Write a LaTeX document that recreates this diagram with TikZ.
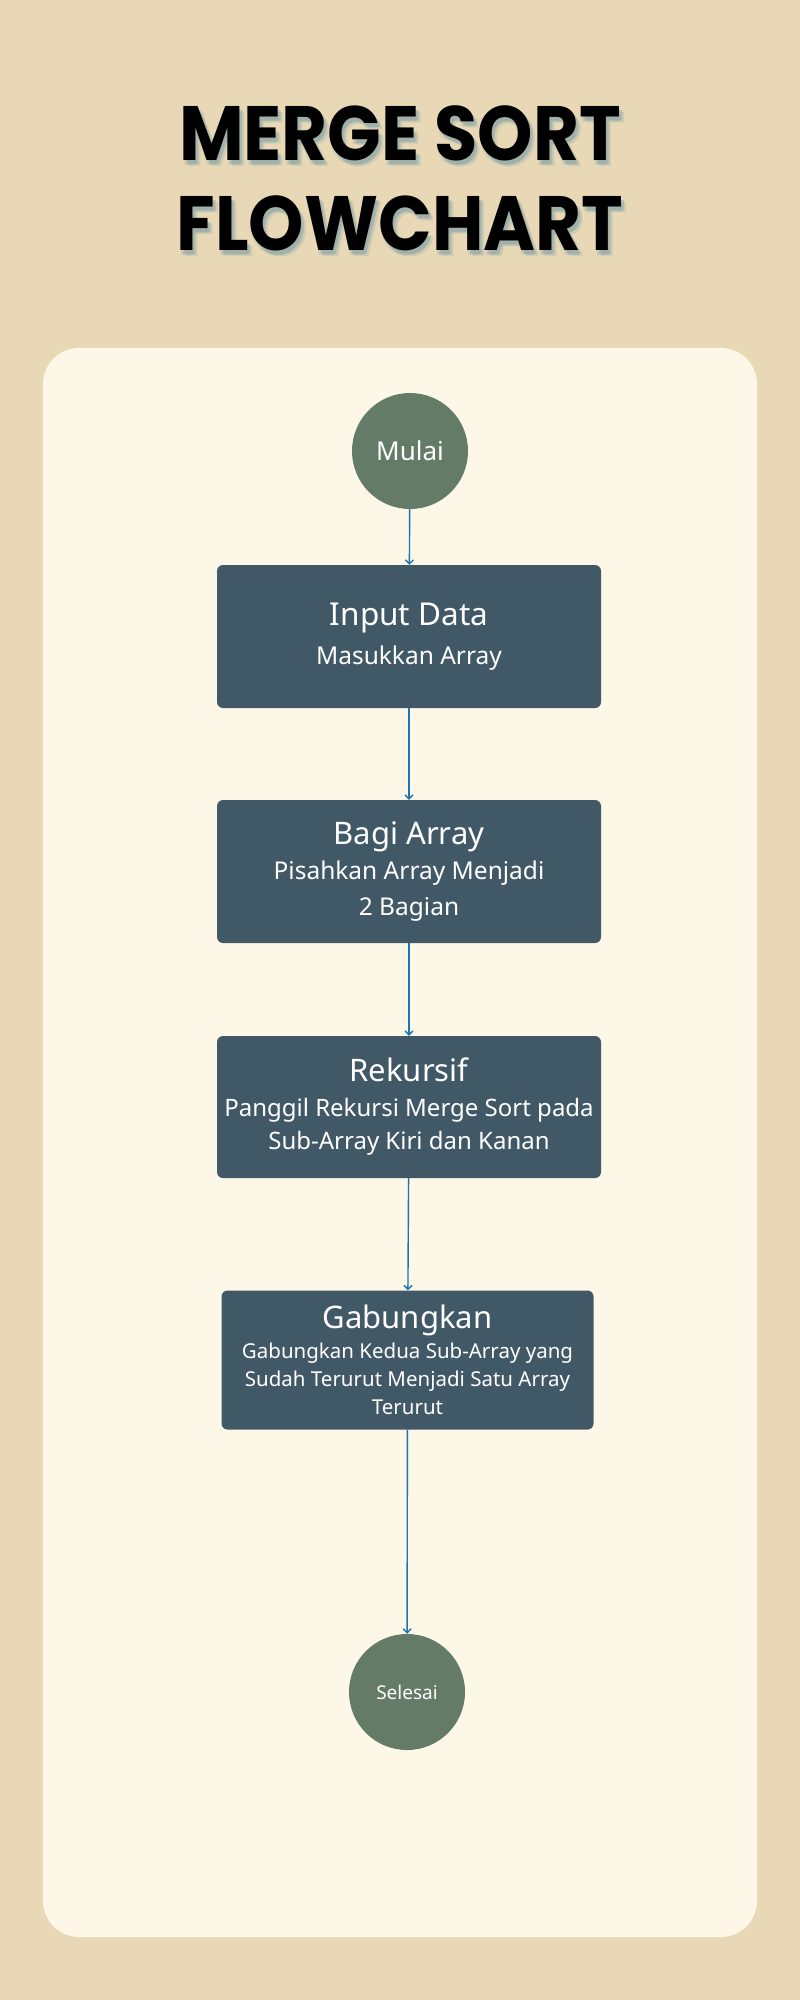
\documentclass[tikz,border=0pt]{standalone}
\usepackage{fontspec}
\setmainfont{Noto Sans}
\newfontfamily\titlefont{Poppins}
\usetikzlibrary{arrows.meta}
\definecolor{bgc}{HTML}{E8D8B6}
\definecolor{panelc}{HTML}{FCF7E7}
\definecolor{circc}{HTML}{637B67}
\definecolor{boxc}{HTML}{415866}
\definecolor{arrc}{HTML}{1B75B0}
\definecolor{shadc}{HTML}{6E98A3}
\tikzset{
  stepbox/.style={fill=boxc, rounded corners=6pt, minimum width=384pt, minimum height=143pt,
    text=white, align=center, inner sep=0pt, font=\fontsize{24.5}{33}\selectfont},
  termc/.style={circle, fill=circc, minimum size=116pt, inner sep=0pt, text=white},
  arr/.style={draw=arrc, line width=1.4pt, -{Straight Barb[length=4pt,width=8pt,line width=1.4pt]}},
  ttl/.style={anchor=base, font=\titlefont\bfseries\fontsize{77}{80}\selectfont, inner sep=0pt},
}
\newcommand{\ttltext}[1]{\scalebox{0.915}[1]{#1}}
\begin{document}
\begin{tikzpicture}[x=1pt,y=-1pt]
\useasboundingbox (0,0) rectangle (800,2000);
\fill[bgc] (0,0) rectangle (800,2000);
\fill[panelc, rounded corners=36pt] (43,348) rectangle (757,1937);
% title shadow
\foreach \dx/\dy/\op in {3/4/0.35,5/6/0.2,1/5/0.2} {
  \node[ttl, text=shadc, opacity=\op] at (400+\dx,160+\dy) {\ttltext{MERGE SORT}};
  \node[ttl, text=shadc, opacity=\op] at (400+\dx,250+\dy) {\ttltext{FLOWCHART}};
}
\node[ttl] (t1) at (400,160) {\ttltext{MERGE SORT}};
\node[ttl] (t2) at (400,250) {\ttltext{FLOWCHART}};
% nodes
\node[termc, font=\fontsize{26}{30}\selectfont] (mulai) at (410,451) {Mulai};
\node[stepbox] (input) at (409,636.5) {{\fontsize{31.5}{36}\selectfont Input Data}\\[5.5pt]Masukkan Array};
\node[stepbox] (bagi) at (409,871.5) {{\fontsize{31}{36}\selectfont Bagi Array}\\[2pt]Pisahkan Array Menjadi\\[3pt]2 Bagian};
\node[stepbox, minimum height=142pt, font=\fontsize{24}{33}\selectfont] (rek) at (409,1107) {{\fontsize{31}{36}\selectfont Rekursif}\\[2pt]Panggil Rekursi Merge Sort pada\\[0pt]Sub-Array Kiri dan Kanan};
\node[stepbox, minimum width=372pt, minimum height=139pt, font=\fontsize{20.5}{28}\selectfont] (gab) at (407.5,1360) {{\fontsize{31}{36}\selectfont Gabungkan}\\[2pt]Gabungkan Kedua Sub-Array yang\\Sudah Terurut Menjadi Satu Array\\Terurut};
\node[termc, font=\fontsize{19}{22}\selectfont] (sel) at (407,1692) {Selesai};
% connectors
\draw[arr] (mulai) -- (input);
\draw[arr] (input) -- (bagi);
\draw[arr] (bagi) -- (rek);
\draw[arr] (rek) -- (gab);
\draw[arr] (gab) -- (sel);
\end{tikzpicture}
\end{document}
